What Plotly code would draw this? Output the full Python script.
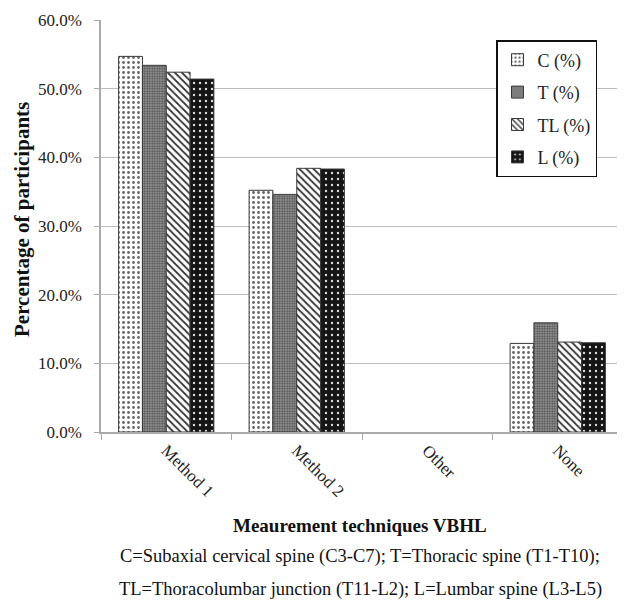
import plotly.graph_objects as go

categories = ["Method 1", "Method 2", "Other", "None"]
c_vals = [54.7, 35.2, 0.0, 12.9]
t_vals = [53.4, 34.6, 0.0, 15.9]
tl_vals = [52.4, 38.4, 0.0, 13.1]
l_vals = [51.4, 38.3, 0.0, 13.0]
series_names = ["C (%)", "T (%)", "TL (%)", "L (%)"]
y_ticks = [0, 10, 20, 30, 40, 50, 60]

FONT = "Liberation Serif"
styles = [
    dict(shape=".", bgcolor="white", fgcolor="#666666", size=5, solidity=0.25),
    dict(shape=".", bgcolor="#a0a0a0", fgcolor="#505050", size=2.5, solidity=0.5),
    dict(shape="\\", bgcolor="white", fgcolor="#333333", size=5, solidity=0.35),
    dict(shape=".", bgcolor="#151515", fgcolor="#dddddd", size=6, solidity=0.12),
]

fig = go.Figure()
for name, vals, st in zip(series_names, [c_vals, t_vals, tl_vals, l_vals], styles):
    fig.add_trace(go.Bar(
        x=categories, y=vals, name=name, legendgroup=name,
        marker=dict(color=st["bgcolor"], pattern=dict(fillmode="replace", **st),
                    line=dict(color="#3a3a3a", width=[1 if v > 0 else 0 for v in vals])),
    ))

# page body has an 8px margin; compensate
OFF = 8
W, H = 625 - OFF, 609 - OFF
l, r, t, b = 101 - OFF, 2, 20 - OFF, 177
pw, ph = W - l - r, H - t - b

def px(x, y):
    x -= OFF
    y -= OFF
    return (x - l) / pw, (H - b - y) / ph

ann_specs = [
    ("<b>Percentage of participants</b>", 22, 220, -90, 21),
    ("<b>Meaurement techniques VBHL</b>", 360, 525, 0, 19),
    ("C=Subaxial cervical spine (C3-C7); T=Thoracic spine (T1-T10);", 360, 556, 0, 18.5),
    ("TL=Thoracolumbar junction (T11-L2); L=Lumbar spine (L3-L5)", 360, 589, 0, 18.5),
]
annotations = []
for text, x, y, ang, sz in ann_specs:
    ax, ay = px(x, y)
    annotations.append(dict(text=text, x=ax, y=ay, xref="paper", yref="paper",
                            xanchor="center", yanchor="middle", showarrow=False,
                            textangle=ang, font=dict(family=FONT, size=sz, color="#111111")))

lx, ly = px(496, 40)
fig.update_layout(
    width=W, height=H,
    margin=dict(l=l, r=r, t=t, b=b),
    paper_bgcolor="white", plot_bgcolor="white",
    barmode="group", bargap=0.27, bargroupgap=0,
    font=dict(family=FONT, size=17, color="#222222"),
    showlegend=True,
    legend=dict(x=lx, y=ly, xanchor="left", yanchor="top",
                bordercolor="#111111", borderwidth=1.5, bgcolor="white",
                font=dict(family=FONT, size=18), itemwidth=30,
                tracegroupgap=6),
    xaxis=dict(showline=True, linecolor="#aaaaaa", linewidth=1.5, automargin=False,
               ticks="outside", tickson="boundaries", ticklen=6, tickcolor="#aaaaaa",
               tickangle=45, tickfont=dict(family=FONT, size=17)),
    yaxis=dict(range=[0, 60], tickvals=y_ticks, ticktext=[f"{v:.1f}%" for v in y_ticks],
               showline=True, linecolor="#aaaaaa", linewidth=1.5, automargin=False,
               ticks="outside", ticklen=5, tickcolor="#aaaaaa", ticklabelstandoff=9,
               showgrid=True, gridcolor="#bdbdbd", gridwidth=1.2,
               tickfont=dict(family=FONT, size=17), zeroline=False),
    annotations=annotations,
)

fig.write_html("out.html")
